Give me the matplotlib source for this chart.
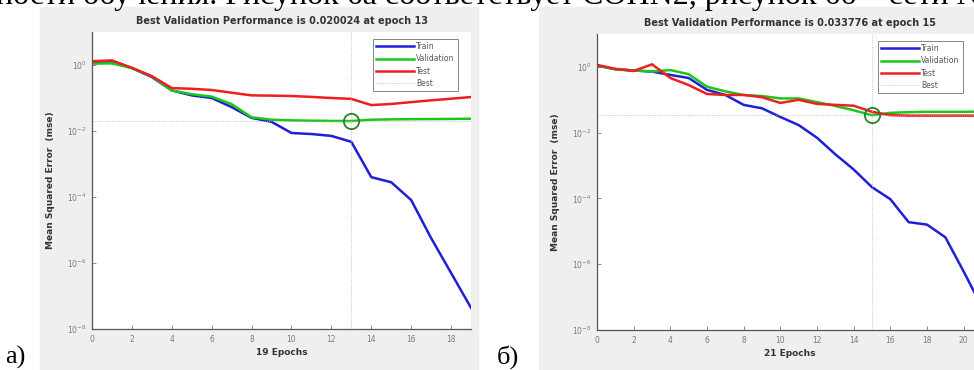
"""plot.py - two MATLAB style training performance plots (a, b)"""

######################
# Import Libraries
######################

import matplotlib
matplotlib.use("Agg")
import matplotlib.pyplot as plt
from matplotlib.patches import Rectangle


######################
# Globals
######################

# Panel a) - 19 epochs
epochs_a = list(range(0, 20))
train_a = [1.23, 1.3, 0.81, 0.43, 0.17, 0.12, 0.1, 0.053, 0.025, 0.019,
           0.0087, 0.0081, 0.0071, 0.0047, 4.0e-4, 2.8e-4, 8.1e-5, 5.7e-6,
           5.0e-7, 4.4e-8]
valid_a = [1.1, 1.12, 0.8, 0.45, 0.17, 0.13, 0.11, 0.065, 0.026, 0.022,
           0.021, 0.0205, 0.0202, 0.020024, 0.022, 0.0225, 0.0228, 0.023,
           0.0232, 0.0235]
test_a = [1.3, 1.38, 0.82, 0.46, 0.2, 0.19, 0.175, 0.145, 0.12, 0.118,
          0.115, 0.108, 0.1, 0.094, 0.061, 0.066, 0.075, 0.085, 0.095, 0.107]
best_a = (13, 0.020024)

# Panel b) - 21 epochs
epochs_b = list(range(0, 22))
train_b = [1.1, 0.85, 0.78, 0.72, 0.57, 0.46, 0.2, 0.14, 0.07, 0.055,
           0.03, 0.017, 0.007, 0.0022, 7.6e-4, 2.2e-4, 9.5e-5, 1.9e-5,
           1.6e-5, 6.6e-6, 6.0e-7, 5.0e-8]
valid_b = [1.1, 0.85, 0.78, 0.72, 0.8, 0.6, 0.25, 0.18, 0.14, 0.13,
           0.11, 0.11, 0.085, 0.065, 0.048, 0.033776, 0.04, 0.042, 0.043,
           0.043, 0.043, 0.044]
test_b = [1.15, 0.87, 0.75, 1.2, 0.46, 0.28, 0.15, 0.14, 0.14, 0.12,
          0.08, 0.1, 0.075, 0.07, 0.066, 0.043, 0.034, 0.033, 0.033, 0.033,
          0.033, 0.033]
best_b = (15, 0.033776)

top_text = "ности обучения. Рисунок 6а соответствует СОНN2, рисунок 6б – сети N2"

c_train = "#1f1fd6"
c_valid = "#19c819"
c_test = "#f01e1e"
c_best = "#b4b4b4"
c_panel = "#efefef"
c_tick = "#7a7a7a"


######################
# Functions
######################

def draw_panel(ax, epochs, train, valid, test, best, n_ep, legend_anchor):
    """Draw one performance panel on ax."""
    ax.set_facecolor("white")
    ax.set_yscale("log")
    ax.plot(epochs, train, color=c_train, lw=1.8, label="Train")
    ax.plot(epochs, valid, color=c_valid, lw=1.8, label="Validation")
    ax.plot(epochs, test, color=c_test, lw=1.8, label="Test")

    # best lines + circle
    ax.axvline(best[0], color=c_best, lw=0.6, ls=":")
    ax.axhline(best[1], color=c_best, lw=0.6, ls=":", label="Best")
    ax.plot([best[0]], [best[1]], marker="o", ms=11, mfc="none",
            mec="#2f7d2f", mew=1.3, ls="none")

    ax.set_xlim(0, n_ep)
    ax.set_ylim(1e-8, 1e1)
    ax.set_xticks(range(0, n_ep + 1, 2))
    ax.set_yticks([1e-8, 1e-6, 1e-4, 1e-2, 1e0])
    ax.set_yticklabels([r"$10^{-8}$", r"$10^{-6}$", r"$10^{-4}$",
                        r"$10^{-2}$", r"$10^{0}$"])
    ax.minorticks_off()
    ax.tick_params(direction="in", length=3, width=0.6, labelsize=5.5,
                   colors=c_tick, pad=4)

    for side in ("top", "right"):
        ax.spines[side].set_visible(False)
    for side in ("left", "bottom"):
        ax.spines[side].set_color("#555555")
        ax.spines[side].set_linewidth(0.9)

    ax.set_title("Best Validation Performance is %g at epoch %d"
                 % (best[1], best[0]), fontsize=7, fontweight="bold",
                 color="#333333", pad=6)
    ax.set_xlabel("%d Epochs" % n_ep, fontsize=6.5, fontweight="bold",
                  color="#333333", labelpad=3)
    ax.set_ylabel("Mean Squared Error  (mse)", fontsize=6.5,
                  fontweight="bold", color="#333333", labelpad=9)

    leg = ax.legend(loc="upper right", bbox_to_anchor=legend_anchor,
                    fontsize=5.5, frameon=True, fancybox=False,
                    handlelength=5.0, handletextpad=0.3, borderpad=0.4,
                    labelspacing=0.45, labelcolor="#555555")
    leg.get_frame().set_edgecolor("#666666")
    leg.get_frame().set_linewidth(0.7)


def main():
    fig = plt.figure(figsize=(9.74, 3.7), dpi=100)
    fig.patch.set_facecolor("white")

    # gray MATLAB figure backgrounds (behind the axes)
    for x0, w in ((40, 438), (539, 435)):
        fig.add_artist(Rectangle((x0 / 974, 0), w / 974, 363 / 370,
                                 transform=fig.transFigure,
                                 color=c_panel, zorder=-5))

    # cut off line of document text (only its lower half is on the page)
    fig.text(-0.004, 1.012, top_text, fontsize=23, family="Liberation Serif",
             va="center", ha="left")

    ax1 = fig.add_axes([92 / 974, 1 - 329 / 370, 379 / 974, 297 / 370])
    ax2 = fig.add_axes([597 / 974, 1 - 330 / 370, 385 / 974, 296 / 370])

    draw_panel(ax1, epochs_a, train_a, valid_a, test_a, best_a, 19,
               (0.975, 0.99))
    draw_panel(ax2, epochs_b, train_b, valid_b, test_b, best_b, 21,
               (0.96, 0.99))

    fig.text(5 / 974, 1 - 369 / 370, "а)", fontsize=19,
             family="Liberation Serif", va="bottom")
    fig.text(497 / 974, 1 - 369 / 370, "б)", fontsize=19,
             family="Liberation Serif", va="bottom")

    fig.savefig("out.png", dpi=100)


######################
# Main
######################

if __name__ == "__main__":
    main()
